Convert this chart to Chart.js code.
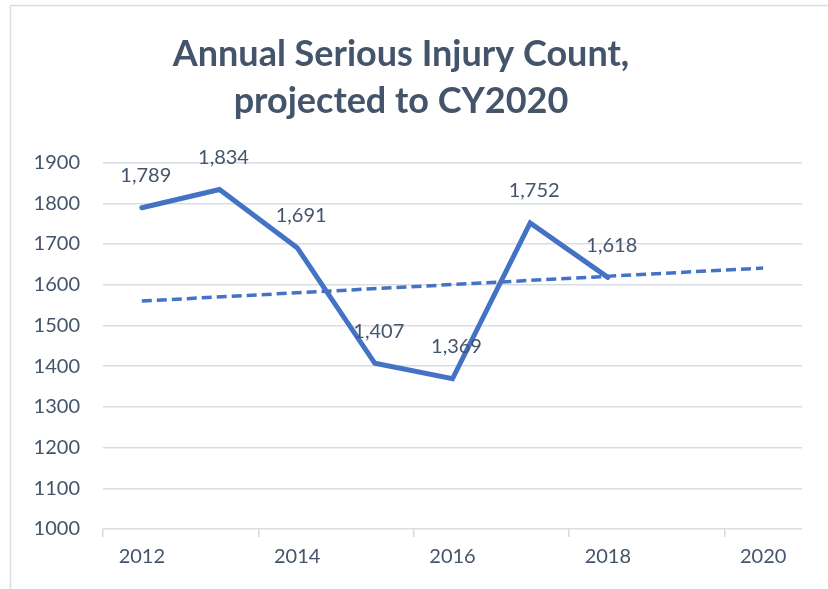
<!DOCTYPE html>
<html>
<head>
<meta charset="utf-8">
<script src="https://cdn.jsdelivr.net/npm/chart.js@4"></script>
<style>
  html, body { margin: 0; padding: 0; background: #fff; }
  #wrap { width: 828px; height: 589px; }
</style>
</head>
<body>
<div id="wrap"><canvas id="injuryChart" width="828" height="589"></canvas></div>
<script>
const years = ['2012', '2013', '2014', '2015', '2016', '2017', '2018', '2019', '2020'];
const injuryCounts = [1789, 1834, 1691, 1407, 1369, 1752, 1618, null, null];
const trendValues = [1560, null, null, null, null, null, null, null, 1641];
const yTicks = [1000, 1100, 1200, 1300, 1400, 1500, 1600, 1700, 1800, 1900];

const textColor = '#44546a';
const blue = '#4472c4';

// frame around the chart area (the reference is cropped on right/bottom)
const framePlugin = {
    id: 'frame',
    beforeDraw(chart) {
        const ctx = chart.ctx;
        ctx.save();
        ctx.strokeStyle = '#d9dde3';
        ctx.lineWidth = 1.5;
        ctx.beginPath();
        ctx.moveTo(10.5, chart.height);
        ctx.lineTo(10.5, 5.5);
        ctx.lineTo(chart.width, 5.5);
        ctx.stroke();
        ctx.restore();
    }
};

// value labels above each point of the first series
const valueLabels = {
    id: 'valueLabels',
    afterDatasetsDraw(chart) {
        const ctx = chart.ctx;
        const meta = chart.getDatasetMeta(0);
        ctx.save();
        ctx.font = '20px Lato';
        ctx.fillStyle = textColor;
        ctx.textAlign = 'center';
        ctx.textBaseline = 'middle';
        meta.data.forEach((pt, i) => {
            const v = injuryCounts[i];
            if (v == null) return;
            ctx.fillText(v.toLocaleString('en-US'), pt.x + 4, pt.y - 32);
        });
        ctx.restore();
    }
};

new Chart(document.getElementById('injuryChart'), {
    type: 'line',
    data: {
        labels: years,
        datasets: [{
            label: 'Serious injuries',
            data: injuryCounts,
            borderColor: blue,
            borderWidth: 5,
            borderCapStyle: 'round',
            pointRadius: 0,
            tension: 0
        }, {
            label: 'Linear trend',
            data: trendValues,
            borderColor: blue,
            borderWidth: 3.5,
            borderDash: [10, 5],
            spanGaps: true,
            pointRadius: 0,
            tension: 0
        }]
    },
    options: {
        responsive: false,
        animation: false,
        layout: { padding: { left: 0, right: 26, top: 0, bottom: 0 } },
        plugins: {
            legend: { display: false },
            tooltip: { enabled: false },
            title: {
                display: true,
                text: ['Annual Serious Injury Count,', 'projected to CY2020'],
                color: textColor,
                font: { family: 'Lato', size: 36, weight: 'bold', lineHeight: 1.3 },
                padding: { top: 31, bottom: 38 }
            }
        },
        scales: {
            x: {
                offset: true,
                grid: {
                    offset: true,
                    drawOnChartArea: false,
                    tickLength: 8,
                    color: ctx => (ctx.index % 2 === 0 ? '#d9d9d9' : 'rgba(0,0,0,0)'),
                    lineWidth: 1.5
                },
                border: { display: false },
                ticks: {
                    autoSkip: false,
                    maxRotation: 0,
                    color: textColor,
                    font: { family: 'Lato', size: 20 },
                    padding: 8,
                    callback: function (val, i) { return i % 2 === 0 ? years[i] : ''; }
                },
                afterFit: s => { s.height = 60; }
            },
            y: {
                min: 1000,
                max: 1900,
                afterBuildTicks: s => { s.ticks = yTicks.map(v => ({ value: v })); },
                grid: { color: '#d9dde3', lineWidth: 1.5, drawTicks: false },
                border: { display: false },
                ticks: {
                    color: textColor,
                    font: { family: 'Lato', size: 20 },
                    padding: 23,
                    callback: v => String(v)
                },
                afterFit: s => { s.width = 103; }
            }
        }
    },
    plugins: [framePlugin, valueLabels]
});
</script>
</body>
</html>
